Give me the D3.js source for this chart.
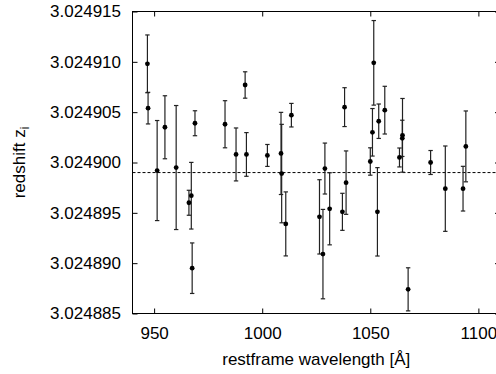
<!DOCTYPE html>
<html>
<head>
<meta charset="utf-8">
<script src="https://cdn.jsdelivr.net/npm/d3@7"></script>
<style>
body { margin: 0; background: #fff; }
svg { display: block; font-family: "Liberation Sans", Arial, sans-serif; }
</style>
</head>
<body>
<div class="svg-container"></div>
<script>
//Data
const wavelength = [946.9, 947.2, 951.4, 955.0, 960.2, 968.9, 967.2, 966.1, 967.6, 982.8,
                    987.9, 992.1, 992.7, 1002.4, 1008.7, 1009.0, 1010.9, 1013.5, 1029.0, 1026.5,
                    1028.1, 1031.2, 1038.8, 1037.1, 1038.1, 1051.6, 1051.0, 1050.0, 1053.9, 1056.7,
                    1053.3, 1063.5, 1064.9, 1064.8, 1067.5, 1077.9, 1084.7, 1092.9, 1094.2];
const redshift = [3.0249098, 3.0249054, 3.0248992, 3.0249035, 3.0248995, 3.0249039, 3.0248967, 3.0248960, 3.0248895, 3.0249038,
                  3.0249008, 3.0249077, 3.0249008, 3.0249007, 3.0249009, 3.0248989, 3.0248939, 3.0249047, 3.0248994, 3.0248946,
                  3.0248909, 3.0248954, 3.0248980, 3.0248951, 3.0249055, 3.0249099, 3.0249030, 3.0249001, 3.0249041, 3.0249052,
                  3.0248951, 3.0249005, 3.0249027, 3.0249024, 3.0248874, 3.0249000, 3.0248974, 3.0248974, 3.0249016];
//errors in units of 1e-6
const redshiftErr = [2.87, 1.57, 4.97, 3.13, 6.16, 1.24, 3.31, 1.24, 2.51, 2.34,
                     2.63, 1.31, 2.17, 1.09, 4.08, 4.89, 3.18, 1.17, 2.53, 3.69,
                     4.44, 3.58, 3.15, 1.84, 1.93, 4.20, 2.36, 1.36, 1.71, 2.37,
                     4.39, 0.94, 3.66, 1.80, 2.14, 1.19, 4.24, 2.22, 3.52];
const meanRedshift = 3.024899;
const xTicks = [950, 1000, 1050, 1100];
const yTicks = [3.024885, 3.024890, 3.024895, 3.024900, 3.024905, 3.024910, 3.024915];

const points = wavelength.map((w, i) => ({ w: w, z: redshift[i], e: redshiftErr[i] * 1e-6 }));

const W = 496, H = 374;
const box = { left: 132.5, right: 500, top: 11.5, bottom: 313.5 };
const fontSize = 17;

const xScale = d3.scaleLinear().domain([940, 1110]).range([box.left, box.right]);
const yScale = d3.scaleLinear().domain([3.024885, 3.024915]).range([box.bottom, box.top]);

const svg = d3.select('.svg-container')
    .append('svg')
    .attr('width', W)
    .attr('height', H);

//Axes, ticks pointing inward on all sides
function styleAxis(g) {
    g.attr('font-family', null).attr('font-size', fontSize);
    g.select('.domain').remove();
    g.selectAll('.tick line').attr('stroke', '#000');
    g.selectAll('.tick text').attr('fill', '#000');
}

svg.append('g')
    .attr('transform', `translate(0,${box.bottom})`)
    .call(d3.axisBottom(xScale).tickValues(xTicks).tickSizeInner(-5).tickSizeOuter(0).tickPadding(13.5)
        .tickFormat(d3.format('d')))
    .call(styleAxis);

svg.append('g')
    .attr('transform', `translate(0,${box.top})`)
    .call(d3.axisTop(xScale).tickValues(xTicks).tickSizeInner(-5).tickSizeOuter(0).tickFormat(''))
    .call(styleAxis);

svg.append('g')
    .attr('transform', `translate(${box.left},0)`)
    .call(d3.axisLeft(yScale).tickValues(yTicks).tickSizeInner(-5).tickSizeOuter(0).tickPadding(11.5)
        .tickFormat(d => d.toFixed(6)))
    .call(styleAxis);

svg.append('g')
    .attr('transform', `translate(${box.right},0)`)
    .call(d3.axisRight(yScale).tickValues(yTicks).tickSizeInner(-5).tickSizeOuter(0).tickFormat(''))
    .call(styleAxis);

//mean redshift line
svg.append('line')
    .attr('x1', box.left).attr('x2', box.right)
    .attr('y1', yScale(meanRedshift)).attr('y2', yScale(meanRedshift))
    .attr('stroke', '#000')
    .attr('stroke-width', 1)
    .attr('stroke-dasharray', '3,2');

//error bars
const bars = svg.append('g')
    .attr('stroke', '#222')
    .attr('stroke-width', 1.2)
    .selectAll('g')
    .data(points)
    .enter()
    .append('g');

bars.append('line')
    .attr('x1', d => xScale(d.w)).attr('x2', d => xScale(d.w))
    .attr('y1', d => yScale(d.z - d.e)).attr('y2', d => yScale(d.z + d.e));
bars.append('line')
    .attr('x1', d => xScale(d.w) - 2.2).attr('x2', d => xScale(d.w) + 2.2)
    .attr('y1', d => yScale(d.z + d.e)).attr('y2', d => yScale(d.z + d.e));
bars.append('line')
    .attr('x1', d => xScale(d.w) - 2.2).attr('x2', d => xScale(d.w) + 2.2)
    .attr('y1', d => yScale(d.z - d.e)).attr('y2', d => yScale(d.z - d.e));

//points
svg.append('g')
    .selectAll('circle')
    .data(points)
    .enter()
    .append('circle')
    .attr('cx', d => xScale(d.w))
    .attr('cy', d => yScale(d.z))
    .attr('r', 2.4)
    .attr('fill', '#000');

//frame
svg.append('rect')
    .attr('x', box.left).attr('y', box.top)
    .attr('width', box.right - box.left).attr('height', box.bottom - box.top)
    .attr('fill', 'none')
    .attr('stroke', '#000')
    .attr('stroke-width', 1);

//axis titles
svg.append('text')
    .attr('x', (box.left + box.right) / 2)
    .attr('y', 365)
    .attr('text-anchor', 'middle')
    .attr('font-size', fontSize)
    .text('restframe wavelength [Å]');

const yTitle = svg.append('text')
    .attr('transform', `translate(25,${(box.top + box.bottom) / 2}) rotate(-90)`)
    .attr('text-anchor', 'middle')
    .attr('font-size', fontSize);
yTitle.append('tspan').text('redshift z');
yTitle.append('tspan').attr('dy', 4).attr('font-size', 12).text('i');
</script>
</body>
</html>
